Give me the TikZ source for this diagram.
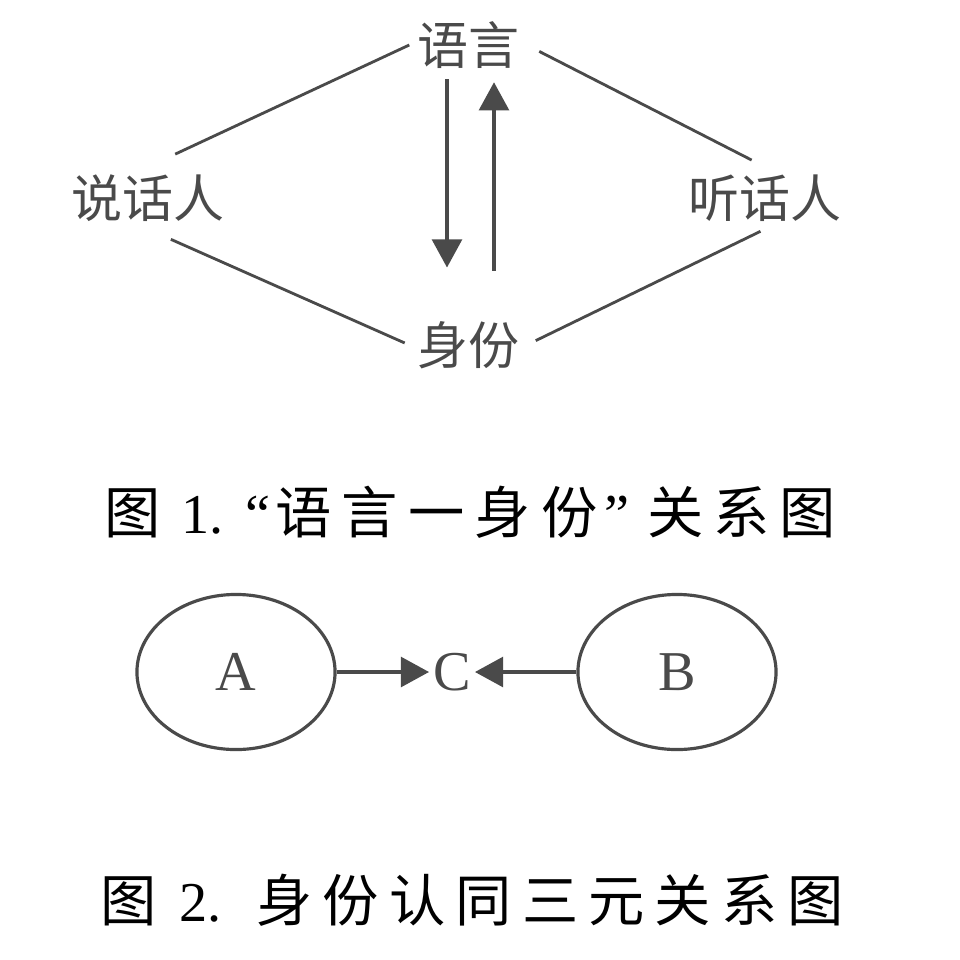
\documentclass[tikz,border=0pt]{standalone}
\usepackage{fontspec}
\setmainfont{Liberation Serif}
\newfontfamily\cjk{Noto Sans CJK SC}
\newfontfamily\cjkcap[LetterSpace=18]{Noto Sans CJK SC}
\usetikzlibrary{arrows.meta,shapes.geometric,calc}
\definecolor{inkgray}{HTML}{4A4A4A}
\tikzset{
  term/.style={font=\cjk\fontsize{14.5}{16}\selectfont, text=inkgray, inner sep=2pt},
  link/.style={draw=inkgray, line width=0.8pt},
  flow/.style={draw=inkgray, line width=0.9pt, -{Triangle[length=8pt,width=8.5pt]}},
  caption/.style={font=\cjkcap\fontsize{16}{18}\selectfont, text=black,
    anchor=west, inner sep=0pt},
  party/.style={ellipse, draw=inkgray, line width=0.9pt, minimum width=1.98cm,
    minimum height=1.55cm, font=\fontsize{16}{18}\selectfont, text=inkgray}
}
\begin{document}
\begin{tikzpicture}[x=0.01cm, y=-0.01cm]
\useasboundingbox (0,0) rectangle (960,960);

% Figure 1: the four terms
\node[term] (yy) at (468,45) {语言};
\node[term] (sp) at (148,198) {说话人};
\node[term] (sh) at (765,198) {听话人};
\node[term] (sf) at (468,345) {身份};

% Figure 1: sides of the diamond
\draw[link, shorten >=0.3cm] (yy.west) -- (sp.north);
\draw[link, shorten <=0.14cm, shorten >=0.15cm] (yy.east) -- (sh.north);
\draw[link, shorten <=0.25cm, shorten >=0.05cm] (sp.south) -- (sf.west);
\draw[link, shorten <=0.1cm, shorten >=0.05cm] (sf.east) -- (sh.south);

% Figure 1: the two arrows
\draw[flow, shorten <=0.03cm, shorten >=0.46cm]
  ($(yy.south)+(-21,0)$) -- ($(sf.north)+(-21,0)$);
\draw[flow, shorten <=0.43cm, shorten >=0.06cm]
  ($(sf.north)+(26,0)$) -- ($(yy.south)+(26,0)$);

% Caption 1
\node[caption] (cap1) at (104,512)
{图\hspace{5.7pt}{\rmfamily 1.}\hspace{6.3pt}{\rmfamily “}\hspace{1.5pt}语言一身份\hspace{2pt}{\rmfamily ”}\hspace{5pt}关系图};

% Figure 2
\node[party] (a) at (236,672) {A};
\node[party] (b) at (677,672) {B};
\node[text=inkgray, font=\fontsize{16}{18}\selectfont, inner sep=1pt] (c) at (452,672) {C};

\draw[flow] (a) -- (c);
\draw[flow] (b) -- (c);

% Caption 2
\node[caption] (cap2) at (100,900)
{图\hspace{6.3pt}{\rmfamily 2.}\hspace{10pt}身份认同三元关系图};

\end{tikzpicture}
\end{document}
